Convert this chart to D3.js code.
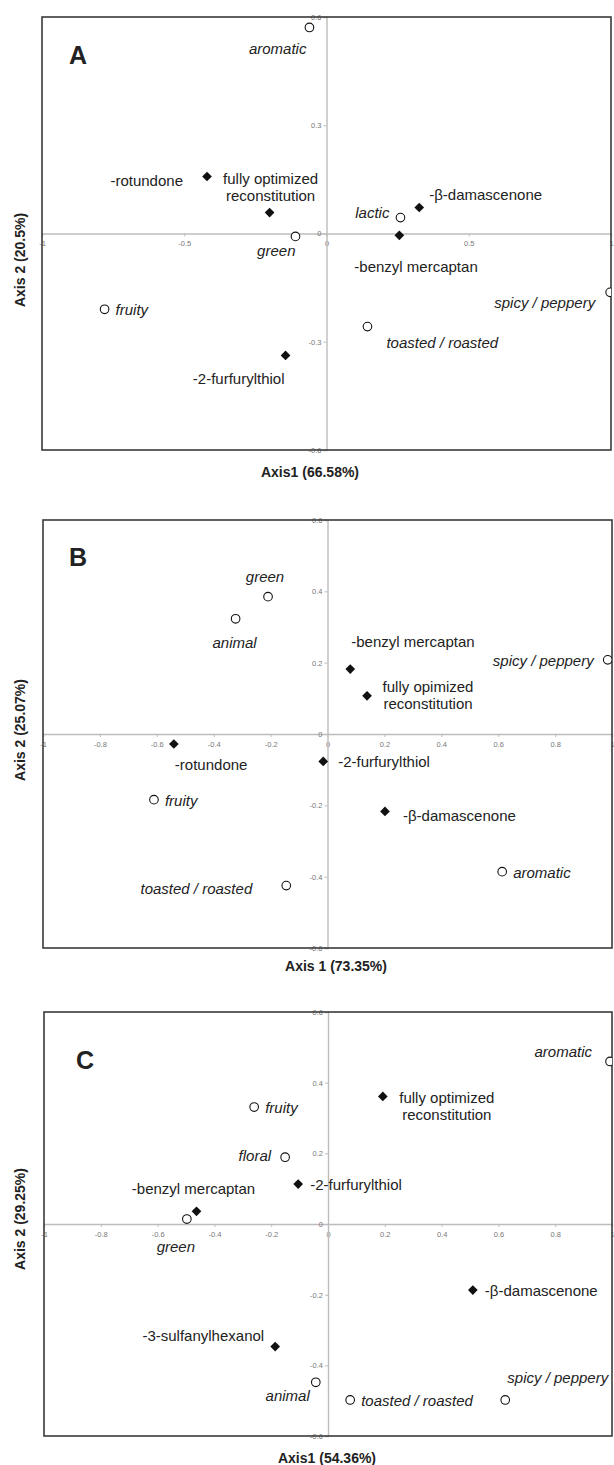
<!DOCTYPE html>
<html>
<head>
<meta charset="utf-8">
<script src="https://cdn.jsdelivr.net/npm/d3@7"></script>
<style>
  body { margin: 0; background: #fff; }
  svg { display: block; font-family: "Liberation Sans", Arial, sans-serif; }
</style>
</head>
<body>
<svg id="chart" width="614" height="1465"></svg>
<script>
// Panel A values
const namesA = ['aromatic', '-rotundone', 'fully optimized\nreconstitution', 'lactic', '-β-damascenone',
  'green', '-benzyl mercaptan', 'fruity', 'spicy / peppery', 'toasted / roasted', '-2-furfurylthiol'];
const kindA = ['attr', 'comp', 'comp', 'attr', 'comp', 'attr', 'comp', 'attr', 'attr', 'attr', 'comp'];
const axis1A = [-0.06, -0.42, -0.2, 0.26, 0.326, -0.109, 0.256, -0.78, 0.997, 0.144, -0.144];
const axis2A = [0.571, 0.158, 0.058, 0.044, 0.072, -0.008, -0.005, -0.21, -0.163, -0.258, -0.338];

// Panel B values
const namesB = ['green', 'animal', '-benzyl mercaptan', 'fully opimized\nreconstitution', 'spicy / peppery',
  '-rotundone', '-2-furfurylthiol', 'fruity', '-β-damascenone', 'aromatic', 'toasted / roasted'];
const kindB = ['attr', 'attr', 'comp', 'comp', 'attr', 'comp', 'comp', 'attr', 'comp', 'attr', 'attr'];
const axis1B = [-0.209, -0.323, 0.08, 0.139, 0.985, -0.54, -0.015, -0.61, 0.202, 0.614, -0.145];
const axis2B = [0.385, 0.323, 0.182, 0.107, 0.208, -0.028, -0.077, -0.184, -0.217, -0.386, -0.425];

// Panel C values
const namesC = ['aromatic', 'fully optimized\nreconstitution', 'fruity', 'floral', '-2-furfurylthiol',
  '-benzyl mercaptan', 'green', '-β-damascenone', '-3-sulfanylhexanol', 'animal', 'toasted / roasted', 'spicy / peppery'];
const kindC = ['attr', 'comp', 'attr', 'attr', 'comp', 'comp', 'attr', 'comp', 'comp', 'attr', 'attr', 'attr'];
const axis1C = [0.993, 0.193, -0.26, -0.151, -0.105, -0.463, -0.497, 0.51, -0.186, -0.043, 0.078, 0.624];
const axis2C = [0.46, 0.361, 0.331, 0.189, 0.113, 0.036, 0.014, -0.187, -0.347, -0.448, -0.498, -0.498];

// tick values
const xTicksA = [-1, -0.5, 0, 0.5, 1];
const yTicksA = [-0.6, -0.3, 0, 0.3, 0.6];
const xTicksBC = [-1, -0.8, -0.6, -0.4, -0.2, 0, 0.2, 0.4, 0.6, 0.8, 1];
const yTicksBC = [-0.6, -0.4, -0.2, 0, 0.2, 0.4, 0.6];

// axis titles
const titlesA = ['A', 'Axis1 (66.58%)', 'Axis 2 (20.5%)'];
const titlesB = ['B', 'Axis 1 (73.35%)', 'Axis 2 (25.07%)'];
const titlesC = ['C', 'Axis1 (54.36%)', 'Axis 2 (29.25%)'];

// label placement next to each marker: [anchor, dx, dy]
const placeA = [['end', -3, 21], ['end', -24, 4], ['middle', 1, -35], ['end', -11, -6], ['start', 10, -14],
  ['end', 0, 14], ['start', -45, 31], ['start', 11, 0], ['end', -15, 10], ['start', 19, 15], ['end', -1, 23]];
const placeB = [['middle', -3, -21], ['middle', -1, 23], ['start', 1, -28], ['middle', 61, -10], ['end', -14, 0],
  ['start', 1, 20], ['start', 15, 0], ['start', 11, 0], ['start', 18, 4], ['start', 11, 0], ['end', -34, 2]];
const placeC = [['end', -18, -10], ['middle', 64, 1], ['start', 11, 0], ['end', -14, -2], ['start', 12, 0],
  ['middle', -3, -23], ['middle', -11, 27], ['start', 12, 0], ['end', -11, -12], ['end', -6, 13],
  ['start', 11, 0], ['end', 103, -23]];

const svg = d3.select('#chart');
const fmt = d => (d === 0 ? '0' : String(d));

function drawPanel(p) {
  const g = svg.append('g');
  const x = d3.scaleLinear().domain([-1, 1]).range([p.left, p.right]);
  const y = d3.scaleLinear().domain([-0.6, 0.6]).range([p.bottom, p.top]);

  const clipId = 'clip' + p.id;
  g.append('clipPath').attr('id', clipId)
    .append('rect')
      .attr('x', p.left).attr('y', p.top)
      .attr('width', p.right - p.left).attr('height', p.bottom - p.top);

  // axes crossing at zero
  const xAxis = g.append('g')
      .attr('transform', `translate(0,${y(0)})`)
      .call(d3.axisBottom(x).tickValues(p.xTicks).tickSize(3).tickFormat(fmt));
  const yAxis = g.append('g')
      .attr('transform', `translate(${x(0)},0)`)
      .call(d3.axisLeft(y).tickValues(p.yTicks).tickSize(3).tickFormat(fmt));
  [xAxis, yAxis].forEach(a => {
    a.select('.domain').attr('stroke', '#bdbdbd').attr('stroke-width', 1.4);
    a.selectAll('.tick line').attr('stroke', '#bdbdbd');
    a.selectAll('.tick text').attr('fill', '#777').attr('font-size', 7.5)
      .attr('font-family', '"Liberation Sans", Arial, sans-serif');
  });
  xAxis.selectAll('.tick text').attr('dy', '0.9em');
  yAxis.selectAll('.tick text').attr('x', -5);

  // frame
  g.append('rect')
      .attr('x', p.left).attr('y', p.top)
      .attr('width', p.right - p.left).attr('height', p.bottom - p.top)
      .attr('fill', 'none').attr('stroke', '#3a3a3a').attr('stroke-width', 1.6);

  const pts = p.names.map((n, i) => ({ name: n, kind: p.kind[i], a1: p.a1[i], a2: p.a2[i], place: p.place[i] }));

  const marks = g.append('g').attr('clip-path', `url(#${clipId})`);
  marks.selectAll('circle')
    .data(pts.filter(d => d.kind === 'attr'))
    .join('circle')
      .attr('cx', d => x(d.a1)).attr('cy', d => y(d.a2))
      .attr('r', 4.3)
      .attr('fill', '#fff').attr('stroke', '#111').attr('stroke-width', 1.1);
  marks.selectAll('path')
    .data(pts.filter(d => d.kind === 'comp'))
    .join('path')
      .attr('transform', d => `translate(${x(d.a1)},${y(d.a2)})`)
      .attr('d', d3.symbol(d3.symbolDiamond2, 60))
      .attr('fill', '#111');

  const labels = g.append('g').attr('font-size', 15).attr('fill', '#222');
  labels.selectAll('text')
    .data(pts)
    .join('text')
      .attr('text-anchor', d => d.place[0])
      .attr('font-style', d => d.kind === 'attr' ? 'italic' : 'normal')
      .attr('dominant-baseline', 'central')
      .each(function (d) {
        const t = d3.select(this);
        d.name.split('\n').forEach((line, k) => {
          t.append('tspan')
            .attr('x', x(d.a1) + d.place[1])
            .attr('y', y(d.a2) + d.place[2] + k * 17)
            .text(line);
        });
      });

  // panel letter and axis titles
  g.append('text')
      .attr('x', p.letterPos[0]).attr('y', p.letterPos[1])
      .attr('text-anchor', 'middle').attr('font-size', 25).attr('font-weight', 'bold')
      .attr('fill', '#222').text(p.titles[0]);
  g.append('text')
      .attr('x', p.xTitlePos[0]).attr('y', p.xTitlePos[1])
      .attr('text-anchor', 'middle').attr('dominant-baseline', 'central')
      .attr('font-size', 14).attr('font-weight', 'bold').attr('fill', '#222')
      .text(p.titles[1]);
  g.append('text')
      .attr('transform', `translate(20,${p.yTitleY}) rotate(-90)`)
      .attr('text-anchor', 'middle').attr('dominant-baseline', 'central')
      .attr('font-size', 14).attr('font-weight', 'bold').attr('fill', '#222')
      .text(p.titles[2]);
}

drawPanel({ id: 'A', left: 42, right: 611, top: 17, bottom: 450,
  names: namesA, kind: kindA, a1: axis1A, a2: axis2A, place: placeA,
  xTicks: xTicksA, yTicks: yTicksA, titles: titlesA,
  letterPos: [78, 64], xTitlePos: [310, 472], yTitleY: 260 });

drawPanel({ id: 'B', left: 43, right: 612, top: 520, bottom: 948,
  names: namesB, kind: kindB, a1: axis1B, a2: axis2B, place: placeB,
  xTicks: xTicksBC, yTicks: yTicksBC, titles: titlesB,
  letterPos: [78, 566], xTitlePos: [336, 966], yTitleY: 730 });

drawPanel({ id: 'C', left: 44, right: 612, top: 1012, bottom: 1436,
  names: namesC, kind: kindC, a1: axis1C, a2: axis2C, place: placeC,
  xTicks: xTicksBC, yTicks: yTicksBC, titles: titlesC,
  letterPos: [85, 1069], xTitlePos: [327, 1458], yTitleY: 1219 });
</script>
</body>
</html>
